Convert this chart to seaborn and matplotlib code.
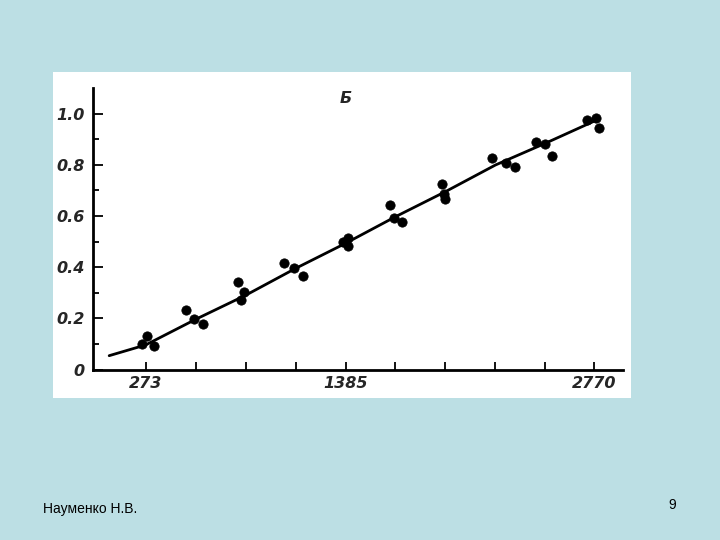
import numpy as np
import pandas as pd
import seaborn as sns
import matplotlib.pyplot as plt

# measured points (temperature, relative value)
pts_x = [254, 282, 321, 497, 542, 594, 788, 805, 820, 1044, 1098, 1150,
         1373, 1397, 1397, 1630, 1656, 1698, 1920, 1935, 1939,
         2198, 2276, 2328, 2443, 2495, 2536, 2727, 2777, 2797]
pts_y = [0.100, 0.132, 0.092, 0.232, 0.196, 0.178, 0.341, 0.271, 0.304,
         0.415, 0.395, 0.366, 0.499, 0.512, 0.482, 0.643, 0.593, 0.575,
         0.725, 0.684, 0.665, 0.825, 0.805, 0.792, 0.889, 0.881, 0.834,
         0.975, 0.981, 0.945]

# fitted curve
fit_x = [70, 273, 551, 829, 1107, 1385, 1663, 1941, 2219, 2497, 2783]
fit_y = [0.054, 0.096, 0.196, 0.290, 0.395, 0.493, 0.597, 0.695, 0.799, 0.884, 0.975]

x_ticks = [273, 1385, 2770]
x_minor = [551, 829, 1107, 1663, 1941, 2219, 2497]
y_ticks = [0, 0.2, 0.4, 0.6, 0.8, 1.0]
y_labels = ["0", "0.2", "0.4", "0.6", "0.8", "1.0"]
y_minor = [0.1, 0.3, 0.5, 0.7, 0.9]

pts = pd.DataFrame({"T": pts_x, "v": pts_y})
fit = pd.DataFrame({"T": fit_x, "v": fit_y})

sns.set_style("ticks")
bg = "#bcdfe4"
fig = plt.figure(figsize=(7.2, 5.4), dpi=100, facecolor=bg)

# white "scan" area behind the chart
bg_ax = fig.add_axes([53 / 720, 1 - 398 / 540, (631 - 53) / 720, (398 - 72) / 540], zorder=0)
bg_ax.set_facecolor("white")
bg_ax.set_xticks([])
bg_ax.set_yticks([])
for s in bg_ax.spines.values():
    s.set_visible(False)

ax = fig.add_axes([93 / 720, 1 - 369.5 / 540, (623 - 93) / 720, (369.5 - 88) / 540], zorder=1)
ax.set_facecolor("none")

sns.lineplot(data=fit, x="T", y="v", ax=ax, color="black", linewidth=2.0, sort=True)
sns.scatterplot(data=pts, x="T", y="v", ax=ax, color="black", s=45, edgecolor="black", zorder=3)

ax.set_xlim(-20, 2929)
ax.set_ylim(0, 1.10)
ax.spines["top"].set_visible(False)
ax.spines["right"].set_visible(False)
for s in ("left", "bottom"):
    ax.spines[s].set_linewidth(2.0)
    ax.spines[s].set_color("black")

fnt = dict(fontsize=11.5, fontstyle="italic", fontweight="bold", family="DejaVu Sans")
ax.set_xticks(x_ticks)
ax.set_xticklabels([str(t) for t in x_ticks], **fnt)
ax.set_xticks(x_minor, minor=True)
ax.set_yticks(y_ticks)
ax.set_yticklabels(y_labels, **fnt)
ax.set_yticks(y_minor, minor=True)
ax.tick_params(axis="both", which="both", direction="in", width=1.3, color="black")
ax.tick_params(axis="y", which="major", length=7, pad=6)
ax.tick_params(axis="y", which="minor", length=4)
ax.tick_params(axis="x", which="both", length=6, pad=5)
ax.set_xlabel("")
ax.set_ylabel("")

ax.text(1385, 1.06, "Б", ha="center", va="center", **fnt)

fig.text(43 / 720, 1 - 509 / 540, "Науменко Н.В.", fontsize=10, family="Liberation Sans",
         va="center", ha="left", color="black")
fig.text(672 / 720, 1 - 505 / 540, "9", fontsize=10, family="Liberation Sans",
         va="center", ha="center", color="black")

fig.savefig("out.png", dpi=100, facecolor=bg)
